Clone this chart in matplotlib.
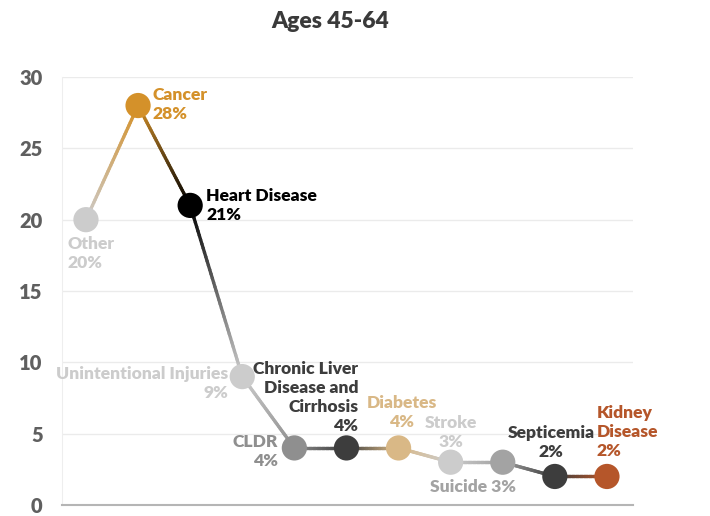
import numpy as np
import matplotlib
matplotlib.use("Agg")
import matplotlib.pyplot as plt
from matplotlib.collections import LineCollection
from matplotlib.colors import to_rgb


# data
causes = ["Other", "Cancer", "Heart Disease", "Unintentional Injuries", "CLDR",
          "Chronic Liver\nDisease and\nCirrhosis", "Diabetes", "Stroke", "Suicide",
          "Septicemia", "Kidney\nDisease"]
shares = [20, 28, 21, 9, 4, 4, 4, 3, 3, 2, 2]
yticks = [0, 5, 10, 15, 20, 25, 30]

colors = ["#cccccc", "#d4912a", "#000000", "#cccccc", "#8f8f8f", "#3d3d3d",
          "#d9b886", "#cccccc", "#a3a3a3", "#3d3d3d", "#b5562a"]

# label placement: (dx px, dy px, ha)
placement = [(-18, -34, "left"), (14, 1, "left"), (16, 0, "left"),
             (-14, -7, "right"), (-16, -4, "right"), (12, 50, "right"),
             (3, 35, "center"), (0, 30, "center"), (-30, -25, "center"),
             (-4, 34, "center"), (-10, 44, "left")]

plt.rcParams['font.family'] = ['Lato', 'DejaVu Sans']

fig = plt.figure(figsize=(7.1, 5.16), dpi=100)
ax = fig.add_axes([62 / 710, 1 - 505 / 516, (633 - 62) / 710, (505 - 77) / 516])

xs = np.arange(len(causes))

# gradient line between neighbouring points
segs = []
segcols = []
for i in range(len(xs) - 1):
    c0 = np.array(to_rgb(colors[i]))
    c1 = np.array(to_rgb(colors[i + 1]))
    steps = 40
    for k in range(steps):
        t0 = k / steps
        t1 = (k + 1) / steps
        p0 = (xs[i] + (xs[i + 1] - xs[i]) * t0, shares[i] + (shares[i + 1] - shares[i]) * t0)
        p1 = (xs[i] + (xs[i + 1] - xs[i]) * t1, shares[i] + (shares[i + 1] - shares[i]) * t1)
        segs.append([p0, p1])
        segcols.append(c0 + (c1 - c0) * (t0 + t1) / 2)
lc = LineCollection(segs, colors=segcols, linewidths=2.4, capstyle="round", zorder=3)
ax.add_collection(lc)

ax.scatter(xs, shares, s=330, c=colors, zorder=4, edgecolors="none", clip_on=False)

# labels, one text per line so the boxes stay tight
pitch = 19
for i in range(len(causes)):
    dx, dy, ha = placement[i]
    if causes[i] == "Suicide":
        lines = ["Suicide 3%"]
    else:
        lines = causes[i].split("\n") + [str(shares[i]) + "%"]
    n = len(lines)
    for j, line in enumerate(lines):
        off = dy + (n - 1) / 2 * pitch - j * pitch
        ax.annotate(line, (xs[i], shares[i]), xytext=(dx, off), textcoords="offset pixels",
                    ha=ha, va="center", fontsize=12.6, fontweight="heavy",
                    color=colors[i], zorder=5)

ax.set_xlim(-0.46, 10.5)
ax.set_ylim(0, 30)
ax.set_yticks(yticks)
ax.set_xticks([])
ax.yaxis.grid(True, color="#ebebeb", linewidth=1)
ax.set_axisbelow(True)
ax.tick_params(axis="y", length=0, pad=14, labelsize=14.5, labelcolor="#5f5f5f")
for lbl in ax.get_yticklabels():
    lbl.set_fontweight("heavy")

for s in ["top", "right"]:
    ax.spines[s].set_visible(False)
ax.spines["left"].set_color("#eeeeee")
ax.spines["bottom"].set_color("#b5b5b5")
ax.spines["bottom"].set_linewidth(1.5)

fig.text(330 / 710, 1 - 21 / 516, "Ages 45-64", ha="center", va="center",
         fontsize=16.5, fontweight="heavy", color="#3a3a3a")

fig.savefig("out.png", dpi=100)
